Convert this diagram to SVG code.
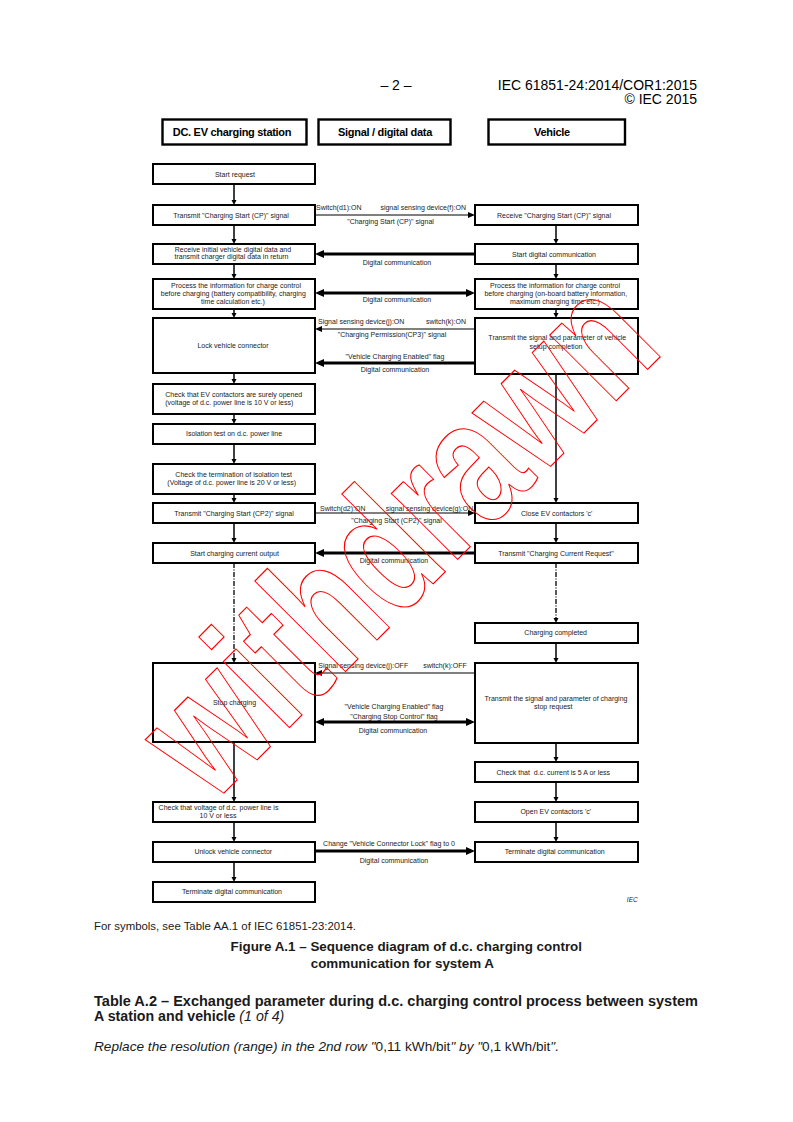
<svg xmlns="http://www.w3.org/2000/svg" width="793" height="1122" viewBox="0 0 793 1122">
<style>
text{font-family:"Liberation Sans",Arial,sans-serif;fill:#1a1a1a}
.b{fill:#fff;stroke:#000;stroke-width:2}
.hb{fill:#fff;stroke:#000;stroke-width:2.4}
.ht{font-size:11px;font-weight:bold;text-anchor:middle;letter-spacing:-0.3px;fill:#000}
.t{font-size:7px;text-anchor:middle}
.s{font-size:7px}
.e{font-size:7px;text-anchor:end}
.v{stroke:#000;stroke-width:1.5;fill:none}
.dd{stroke:#000;stroke-width:1.3;fill:none;stroke-dasharray:5 1.5 1 1.5}
.thin{stroke:#000;stroke-width:1.2;fill:none}
.thick{stroke:#000;stroke-width:3;fill:none}
.pg{font-size:14px;fill:#000}
</style>
<defs>
<marker id="av" markerUnits="userSpaceOnUse" markerWidth="6" markerHeight="6" refX="3" refY="2.5" orient="auto" overflow="visible"><path d="M0,0 L5,2.5 L0,5 z" fill="#000"/></marker>
<marker id="at" markerUnits="userSpaceOnUse" markerWidth="8" markerHeight="7" refX="4" refY="3" orient="auto" overflow="visible"><path d="M0,0 L7,3 L0,6 z" fill="#000"/></marker>
<marker id="ak" markerUnits="userSpaceOnUse" markerWidth="10" markerHeight="9" refX="5" refY="4" orient="auto-start-reverse" overflow="visible"><path d="M0,0 L9,4 L0,8 z" fill="#000"/></marker>
</defs>

<!-- page header -->
<g id="page-header">
<text class="pg" x="396" y="89.5" text-anchor="middle">– 2 –</text>
<text class="pg" x="697" y="89.5" text-anchor="end">IEC 61851-24:2014/COR1:2015</text>
<text class="pg" x="697" y="103.5" text-anchor="end">© IEC 2015</text>
</g>

<!-- column headers -->
<g id="hdr-station"><rect class="hb" x="162.5" y="119.5" width="144" height="25"/><text class="ht" x="232" y="136">DC. EV charging station</text></g>
<g id="hdr-signal"><rect class="hb" x="318.5" y="119.5" width="132" height="25"/><text class="ht" x="385" y="136">Signal / digital data</text></g>
<g id="hdr-vehicle"><rect class="hb" x="488.5" y="119.5" width="136.5" height="25"/><text class="ht" x="552" y="136">Vehicle</text></g>

<!-- connectors -->
<g id="connectors">
<!-- left column verticals -->
<line class="v" x1="234" y1="184" x2="234" y2="203" marker-end="url(#av)"/>
<line class="v" x1="234" y1="225" x2="234" y2="242" marker-end="url(#av)"/>
<line class="v" x1="234" y1="264" x2="234" y2="277" marker-end="url(#av)"/>
<line class="v" x1="234" y1="309" x2="234" y2="316" marker-end="url(#av)"/>
<line class="v" x1="234" y1="373" x2="234" y2="382" marker-end="url(#av)"/>
<line class="v" x1="234" y1="414" x2="234" y2="422" marker-end="url(#av)"/>
<line class="v" x1="234" y1="444" x2="234" y2="462" marker-end="url(#av)"/>
<line class="v" x1="234" y1="494" x2="234" y2="501" marker-end="url(#av)"/>
<line class="v" x1="234" y1="523" x2="234" y2="541" marker-end="url(#av)"/>
<line class="dd" x1="234" y1="563" x2="234" y2="661" marker-end="url(#av)"/>
<line class="v" x1="234" y1="742" x2="234" y2="800" marker-end="url(#av)"/>
<line class="v" x1="234" y1="822" x2="234" y2="840" marker-end="url(#av)"/>
<line class="v" x1="234" y1="862" x2="234" y2="880" marker-end="url(#av)"/>
<!-- right column verticals -->
<line class="v" x1="556" y1="225" x2="556" y2="242" marker-end="url(#av)"/>
<line class="v" x1="556" y1="264" x2="556" y2="277" marker-end="url(#av)"/>
<line class="v" x1="556" y1="309" x2="556" y2="316" marker-end="url(#av)"/>
<line class="v" x1="556" y1="374" x2="556" y2="501" marker-end="url(#av)"/>
<line class="v" x1="556" y1="523" x2="556" y2="541" marker-end="url(#av)"/>
<line class="dd" x1="556" y1="563" x2="556" y2="621" marker-end="url(#av)"/>
<line class="v" x1="556" y1="643" x2="556" y2="661" marker-end="url(#av)"/>
<line class="v" x1="556" y1="743" x2="556" y2="760" marker-end="url(#av)"/>
<line class="v" x1="556" y1="782" x2="556" y2="800" marker-end="url(#av)"/>
<line class="v" x1="556" y1="822" x2="556" y2="840" marker-end="url(#av)"/>
<!-- horizontal signals -->
<line class="thin" x1="315" y1="215" x2="472" y2="215" marker-end="url(#at)"/>
<line class="thick" x1="475" y1="254" x2="319" y2="254" marker-end="url(#ak)"/>
<line class="thick" x1="319" y1="293" x2="471" y2="293" marker-start="url(#ak)" marker-end="url(#ak)"/>
<line class="thin" x1="475" y1="329" x2="318" y2="329" marker-end="url(#at)"/>
<line class="thick" x1="475" y1="363" x2="319" y2="363" marker-end="url(#ak)"/>
<line class="thin" x1="315" y1="513" x2="472" y2="513" marker-end="url(#at)"/>
<line class="thick" x1="475" y1="553" x2="319" y2="553" marker-end="url(#ak)"/>
<line class="thin" x1="475" y1="673" x2="318" y2="673" marker-end="url(#at)"/>
<line class="thick" x1="319" y1="722" x2="471" y2="722" marker-start="url(#ak)" marker-end="url(#ak)"/>
<line class="thick" x1="315" y1="851" x2="471" y2="851" marker-end="url(#ak)"/>
</g>

<!-- signal labels -->
<g id="labels">
<text class="s" x="316" y="209.8">Switch(d1):ON</text>
<text class="e" x="466" y="209.8">signal sensing device(f):ON</text>
<text class="t" x="390.5" y="223.5">"Charging Start (CP)" signal</text>
<text class="t" x="397" y="265.2">Digital communication</text>
<text class="t" x="397" y="301.8">Digital communication</text>
<text class="s" x="318" y="323.5">Signal sensing device(j):ON</text>
<text class="e" x="466" y="323.5">switch(k):ON</text>
<text class="t" x="392" y="336.5">"Charging Permission(CP3)" signal</text>
<text class="t" x="395" y="359.2">"Vehicle Charging Enabled" flag</text>
<text class="t" x="395" y="371.8">Digital communication</text>
<text class="s" x="320" y="510.8">Switch(d2):ON</text>
<text class="e" x="473.3" y="510.8">signal sensing device(g):ON</text>
<text class="t" x="396.5" y="523.2">"Charging Start (CP2)" signal</text>
<text class="t" x="394" y="563.2">Digital communication</text>
<text class="s" x="318.3" y="667.5">Signal sensing device(j):OFF</text>
<text class="e" x="466.7" y="667.5">switch(k):OFF</text>
<text class="t" x="394" y="709.2">"Vehicle Charging Enabled" flag</text>
<text class="t" x="394" y="718.8">"Charging Stop Control" flag</text>
<text class="t" x="393" y="732.8">Digital communication</text>
<text class="t" x="389" y="845.8">Change "Vehicle Connector Lock" flag to 0</text>
<text class="t" x="394" y="862.5">Digital communication</text>
</g>

<!-- left column nodes -->
<g id="n-start-request"><rect class="b" x="153" y="164" width="162" height="20"/><text class="t" x="235" y="176.8">Start request</text></g>
<g id="n-transmit-cp"><rect class="b" x="153" y="205" width="162" height="20"/><text class="t" x="231" y="217.5">Transmit "Charging Start (CP)" signal</text></g>
<g id="n-receive-initial"><rect class="b" x="153" y="244" width="162" height="20"/><text class="t" x="233" y="251.5">Receive initial vehicle digital data and</text><text class="t" x="231.5" y="259.2">transmit charger digital data in return</text></g>
<g id="n-process-station"><rect class="b" x="153" y="279" width="162" height="30"/><text class="t" x="236" y="287.8">Process the information for charge control</text><text class="t" x="233.3" y="295.8">before charging (battery compatibility, charging</text><text class="t" x="233" y="303.8">time calculation etc.)</text></g>
<g id="n-lock"><rect class="b" x="153" y="318" width="162" height="55"/><text class="t" x="233" y="347.8">Lock vehicle connector</text></g>
<g id="n-check-contactors"><rect class="b" x="153" y="384" width="162" height="30"/><text class="t" x="233.7" y="396.8">Check that EV contactors are surely opened</text><text class="t" x="229.3" y="404.8">(voltage of d.c. power line is 10 V or less)</text></g>
<g id="n-isolation"><rect class="b" x="153" y="424" width="162" height="20"/><text class="t" x="234" y="436.2">Isolation test on d.c. power line</text></g>
<g id="n-check-isolation"><rect class="b" x="153" y="464" width="162" height="30"/><text class="t" x="233.7" y="476.8">Check the termination of isolation test</text><text class="t" x="231.7" y="484.8">(Voltage of d.c. power line is 20 V or less)</text></g>
<g id="n-transmit-cp2"><rect class="b" x="153" y="503" width="162" height="20"/><text class="t" x="234" y="515.8">Transmit "Charging Start (CP2)" signal</text></g>
<g id="n-start-output"><rect class="b" x="153" y="543" width="162" height="20"/><text class="t" x="234.5" y="555.8">Start charging current output</text></g>
<g id="n-stop-charging"><rect class="b" x="153" y="663" width="162" height="79"/><text class="t" x="234.5" y="704.5">Stop charging</text></g>
<g id="n-check-voltage"><rect class="b" x="153" y="802" width="162" height="20"/><text class="t" x="218.5" y="810.2">Check that voltage of d.c. power line is</text><text class="t" x="218" y="818.2">10 V or less</text></g>
<g id="n-unlock"><rect class="b" x="153" y="842" width="162" height="20"/><text class="t" x="233.3" y="853.5">Unlock vehicle connector</text></g>
<g id="n-terminate-station"><rect class="b" x="153" y="882" width="162" height="20"/><text class="t" x="232" y="893.5">Terminate digital communication</text></g>

<!-- right column nodes -->
<g id="r-receive-cp"><rect class="b" x="475" y="205" width="163" height="20"/><text class="t" x="554" y="217.5">Receive "Charging Start (CP)" signal</text></g>
<g id="r-start-digital"><rect class="b" x="475" y="244" width="163" height="20"/><text class="t" x="554" y="256.5">Start digital communication</text></g>
<g id="r-process-vehicle"><rect class="b" x="475" y="279" width="163" height="30"/><text class="t" x="555" y="287.8">Process the information for charge control</text><text class="t" x="555.8" y="295.8">before charging (on-board battery information,</text><text class="t" x="555" y="303.8">maximum charging time etc.)</text></g>
<g id="r-setup-complete"><rect class="b" x="475" y="318" width="163" height="56"/><text class="t" x="557.3" y="340.2">Transmit the signal and parameter of vehicle</text><text class="t" x="556" y="349.2">setup completion</text></g>
<g id="r-close-contactors"><rect class="b" x="475" y="503" width="163" height="20"/><text class="t" x="556.7" y="515.8">Close EV contactors 'c'</text></g>
<g id="r-current-request"><rect class="b" x="475" y="543" width="163" height="20"/><text class="t" x="556" y="555.8">Transmit "Charging Current Request"</text></g>
<g id="r-charging-completed"><rect class="b" x="475" y="623" width="163" height="20"/><text class="t" x="555.7" y="634.8">Charging completed</text></g>
<g id="r-stop-request"><rect class="b" x="475" y="663" width="163" height="80"/><text class="t" x="556" y="701.2">Transmit the signal and parameter of charging</text><text class="t" x="553.3" y="708.8">stop request</text></g>
<g id="r-check-current"><rect class="b" x="475" y="762" width="163" height="20"/><text class="t" x="553.3" y="774.8">Check that &#160;d.c. current is 5 A or less</text></g>
<g id="r-open-contactors"><rect class="b" x="475" y="802" width="163" height="20"/><text class="t" x="555.8" y="814.2">Open EV contactors 'c'</text></g>
<g id="r-terminate-vehicle"><rect class="b" x="475" y="842" width="163" height="20"/><text class="t" x="554.7" y="853.5">Terminate digital communication</text></g>

<text x="637.7" y="901.5" text-anchor="end" font-size="6.5" font-style="italic">IEC</text>

<!-- page text -->
<g id="page-text">
<text x="94" y="930" font-size="11.4">For symbols, see Table AA.1 of IEC 61851-23:2014.</text>
<text x="582" y="950.5" font-size="13.4" font-weight="bold" text-anchor="end">Figure A.1 – Sequence diagram of d.c. charging control</text>
<text x="494" y="967.5" font-size="13.4" font-weight="bold" text-anchor="end">communication for system A</text>
<text x="94" y="1005.5" font-size="14.2" font-weight="bold" textLength="604" lengthAdjust="spacingAndGlyphs">Table A.2 – Exchanged parameter during d.c. charging control process between system</text>
<text x="94" y="1020.5" font-size="14.2"><tspan font-weight="bold">A station and vehicle </tspan><tspan font-style="italic">(1 of 4)</tspan></text>
<text x="94" y="1050.5" font-size="13.65"><tspan font-style="italic">Replace the resolution (range) in the 2nd row "</tspan><tspan>0,11 kWh/bit</tspan><tspan font-style="italic">" by "</tspan><tspan>0,1 kWh/bit</tspan><tspan font-style="italic">".</tspan></text>
</g>

<!-- watermark -->
<text id="watermark" transform="translate(211.4,805.6) rotate(-45) scale(1,1.36)" font-size="130" font-weight="bold" fill="none" stroke="#ff0000" stroke-width="0.9" style="fill:none">withdrawn</text>
</svg>
